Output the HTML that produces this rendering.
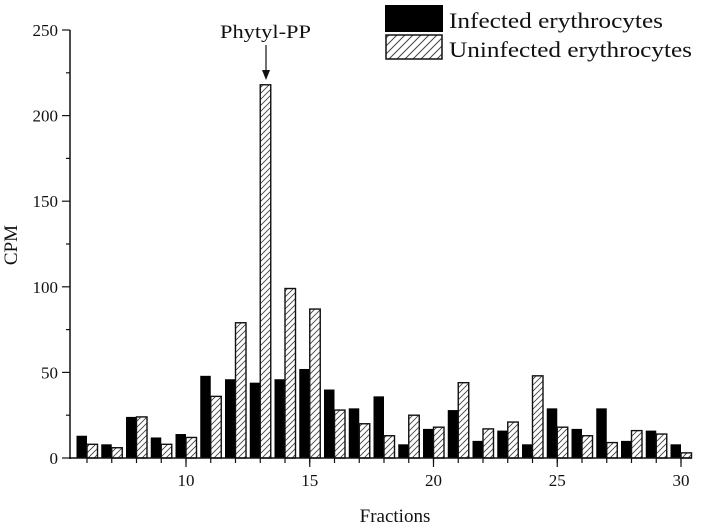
<!DOCTYPE html>
<html><head><meta charset="utf-8"><style>
body{margin:0;background:#fff;}
svg text{font-family:"Liberation Serif",serif;fill:#111;}
</style></head><body>
<svg id="chart" width="708" height="524" viewBox="0 0 708 524" xmlns="http://www.w3.org/2000/svg">
<defs>
<pattern id="hatch" patternUnits="userSpaceOnUse" width="6" height="6">
<rect width="6" height="6" fill="#fff"/>
<path d="M-1,7 L7,-1 M-4,4 L4,-4 M2,10 L10,2" stroke="#444" stroke-width="0.9"/>
</pattern>
<pattern id="hatch2" patternUnits="userSpaceOnUse" width="8" height="8">
<rect width="8" height="8" fill="#fff"/>
<path d="M-1,9 L9,-1 M-5,5 L5,-5 M3,13 L13,3" stroke="#444" stroke-width="1"/>
</pattern>
</defs>
<g id="bars"></g>
<g id="axes"></g>
<text x="220" y="38" font-size="19" textLength="91" lengthAdjust="spacingAndGlyphs">Phytyl-PP</text>
<line x1="266" y1="45" x2="266" y2="72" stroke="#111" stroke-width="1.2"/>
<path d="M262,70 L266,80 L270,70 Z" fill="#111"/>
<text x="395" y="522" font-size="19" text-anchor="middle">Fractions</text>
<text x="17" y="245" font-size="19" text-anchor="middle" transform="rotate(-90 17 245)">CPM</text>
<g>
<rect x="385" y="5" width="58" height="27" fill="#000"/>
<text x="449" y="28" font-size="22" textLength="214" lengthAdjust="spacingAndGlyphs">Infected erythrocytes</text>
<rect x="386" y="35" width="56" height="24" fill="url(#hatch2)" stroke="#111" stroke-width="1.5"/>
<text x="449" y="57" font-size="22" textLength="243" lengthAdjust="spacingAndGlyphs">Uninfected erythrocytes</text>
</g>
</svg>
<script>
const fractions=[6,7,8,9,10,11,12,13,14,15,16,17,18,19,20,21,22,23,24,25,26,27,28,29,30];
const infected=[13,8,24,12,14,48,46,44,46,52,40,29,36,8,17,28,10,16,8,29,17,29,10,16,8];
const uninfected=[8,6,24,8,12,36,79,218,99,87,28,20,13,25,18,44,17,21,48,18,13,9,16,14,3];
const xTicks=[10,15,20,25,30];
const yTicks=[0,50,100,150,200,250];
const NS="http://www.w3.org/2000/svg";
const xs=v=>186+(v-10)*24.75;
const ys=v=>458-v*1.712;
const bw=10.5;
const bars=document.getElementById('bars');
function mk(tag,attrs,parent){const e=document.createElementNS(NS,tag);for(const k in attrs)e.setAttribute(k,attrs[k]);parent.appendChild(e);return e;}
fractions.forEach((f,i)=>{
  const a=mk('rect',{x:xs(f)-bw,y:ys(infected[i]),width:bw,height:458-ys(infected[i]),fill:'#000'},bars);
  
  
  const b=mk('rect',{x:xs(f),y:ys(uninfected[i]),width:bw,height:458-ys(uninfected[i]),fill:'url(#hatch)',stroke:'#111','stroke-width':1.4},bars);
  
  
});
const ax=document.getElementById('axes');
mk('line',{x1:70,y1:30,x2:70,y2:459,stroke:'#111','stroke-width':1.5},ax);
mk('line',{x1:69,y1:458,x2:692,y2:458,stroke:'#111','stroke-width':1.5},ax);
for(let f=6;f<=30;f++){mk('line',{x1:xs(f),y1:458,x2:xs(f),y2:463,stroke:'#111','stroke-width':1.2},ax);}
xTicks.forEach(t=>{
  mk('line',{x1:xs(t),y1:458,x2:xs(t),y2:467,stroke:'#111','stroke-width':1.2},ax);
  const tx=mk('text',{x:xs(t),y:486,'font-size':17,'text-anchor':'middle'},ax);
  tx.textContent=t;
  
  
});
yTicks.forEach(t=>{
  mk('line',{x1:62,y1:ys(t),x2:70,y2:ys(t),stroke:'#111','stroke-width':1.2},ax);
  if(t<250)mk('line',{x1:66,y1:ys(t+25),x2:70,y2:ys(t+25),stroke:'#111','stroke-width':1.2},ax);
  const tx=mk('text',{x:58,y:ys(t)+6,'font-size':17,'text-anchor':'end'},ax);
  tx.textContent=t;
  
  
});
</script>
</body></html>
